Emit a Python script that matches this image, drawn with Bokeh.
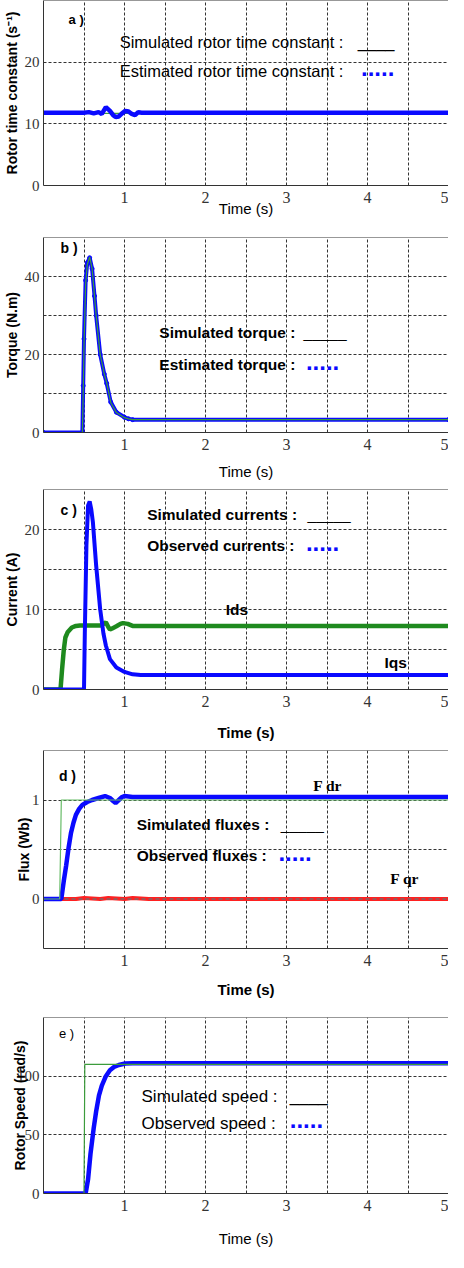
from bokeh.plotting import figure
from bokeh.models import FixedTicker, Label, Range1d, Span
from bokeh.layouts import column
from bokeh.embed import file_html
from bokeh.resources import INLINE

# ---------------- data ----------------
# a) rotor time constant
tau_sim_time = [0, 0.5, 5]
tau_sim = [11.7, 11.7, 11.7]
tau_est_time = [0, 0.5, 0.56, 0.62, 0.68, 0.72, 0.77, 0.82, 0.86, 0.89, 0.93, 0.97,
                1.01, 1.05, 1.09, 1.13, 1.17, 1.21, 1.25, 5]
tau_est = [11.8, 11.8, 11.9, 11.7, 11.9, 11.6, 12.7, 12.1, 11.4, 11.1, 11.2, 11.7,
           12.1, 12.0, 11.6, 11.4, 11.9, 11.8, 11.8, 11.8]

# b) torque
torque_time = [0, 0.48, 0.49, 0.5, 0.52, 0.54, 0.57, 0.6, 0.63, 0.65, 0.7, 0.75,
               0.78, 0.83, 0.9, 1.0, 1.05, 1.1, 5]
torque_sim = [0, 0, 10, 22, 38, 43, 45, 42, 35, 30, 20, 15, 12.8, 7.7, 5.1, 3.8, 3.5, 3.3, 3.3]
torque_est = [0, 0, 12, 24, 39, 43.5, 44.8, 42, 35, 30, 20, 15, 12.6, 7.8, 5.2, 3.9, 3.5, 3.3, 3.3]

# c) currents
ids_time = [0, 0.21, 0.23, 0.25, 0.27, 0.3, 0.35, 0.4, 0.45, 0.7, 0.74, 0.77, 0.8,
            0.82, 0.86, 0.9, 0.95, 0.98, 1.04, 1.1, 5]
ids_sim = [0, 0, 2.5, 4.8, 6.5, 7.2, 7.75, 7.95, 8.0, 8.0, 8.2, 8.4, 7.8, 7.5, 7.7,
           7.9, 8.2, 8.3, 8.2, 7.95, 7.95]
ids_obs = [0, 0, 2.6, 4.9, 6.5, 7.2, 7.75, 7.95, 8.0, 8.0, 8.2, 8.4, 7.8, 7.5, 7.7,
           7.9, 8.2, 8.3, 8.2, 7.95, 7.95]
iqs_time = [0, 0.5, 0.51, 0.53, 0.55, 0.57, 0.59, 0.61, 0.65, 0.7, 0.74, 0.77, 0.82,
            0.9, 1.0, 1.1, 1.2, 5]
iqs_sim = [0, 0, 7, 18, 23, 23.5, 22.5, 20.9, 15.5, 10, 7, 5.5, 3.8, 2.75, 2.2, 1.9, 1.8, 1.8]
iqs_obs = [0, 0, 7, 18, 23, 23.5, 22.5, 20.9, 15.5, 10, 7, 5.5, 3.8, 2.75, 2.2, 1.9, 1.8, 1.8]

# d) fluxes
fdr_sim_time = [0, 0.2, 0.22, 5]
fdr_sim = [0, 0, 1.0, 1.0]
fdr_obs_time = [0, 0.22, 0.25, 0.28, 0.31, 0.34, 0.37, 0.40, 0.44, 0.48, 0.54, 0.60,
                0.68, 0.76, 0.82, 0.86, 0.89, 0.93, 0.97, 1.0, 1.1, 5]
fdr_obs = [0, 0, 0.18, 0.34, 0.52, 0.67, 0.77, 0.85, 0.91, 0.95, 0.98, 1.0, 1.02,
           1.04, 1.02, 0.99, 0.97, 1.0, 1.03, 1.04, 1.03, 1.03]
fqr_time = [0, 0.4, 0.5, 0.7, 0.8, 1.0, 1.1, 1.3, 5]
fqr_sim = [0, 0, 0, 0, 0, 0, 0, 0, 0]
fqr_obs = [0, 0, 0.01, 0.0, 0.01, 0.0, 0.01, 0.0, 0.0]

# e) rotor speed
speed_sim_time = [0, 0.5, 0.51, 5]
speed_sim = [0, 0, 110, 110]
speed_obs_time = [0, 0.52, 0.55, 0.58, 0.62, 0.65, 0.685, 0.72, 0.77, 0.82, 0.87,
                  0.93, 1.01, 1.1, 5]
speed_obs = [0, 0, 12, 33.6, 55.8, 70, 83.6, 92, 100, 105, 107.8, 109.5, 110.8, 111, 111]

x_tick_labels = [1, 2, 3, 4, 5]
x_grid_lines = [0.5, 1, 1.5, 2, 2.5, 3, 3.5, 4, 4.5, 5]

BLUE = "#0a0aff"
GREEN = "#3c9c3c"
DGREEN = "#1e8a1e"
RED = "#ff2020"
FRAME = "#333333"
SANS = "Liberation Sans"
NARROW = "Liberation Sans Narrow"


def make_panel(height, top, bottom, yr, yticks, ygrid, ylabel, xlabel_bold,
               xlabel_standoff, ylabel_standoff=2):
    p = figure(width=448, height=height, x_range=Range1d(0, 5), y_range=Range1d(*yr),
               output_backend="svg", toolbar_location=None,
               min_border_left=40, min_border_right=0,
               min_border_top=top, min_border_bottom=bottom)
    p.background_fill_color = "white"
    p.border_fill_color = "white"
    p.outline_line_color = None
    for ax in (p.xaxis, p.yaxis):
        ax.major_tick_in = 0
        ax.major_tick_out = 0
        ax.minor_tick_line_color = None
        ax.axis_line_color = FRAME
        ax.axis_line_width = 1
        ax.major_label_text_font = NARROW
        ax.major_label_text_color = "#333333"
        ax.axis_label_text_font = SANS
        ax.axis_label_text_color = "black"
    p.xaxis.major_label_text_font_size = "16px"
    p.yaxis.major_label_text_font_size = "15px"
    p.add_layout(Span(location=yr[1], dimension="width", line_color=FRAME, line_width=1))
    p.xaxis.ticker = FixedTicker(ticks=x_tick_labels)
    p.yaxis.ticker = FixedTicker(ticks=yticks)
    p.xgrid.ticker = FixedTicker(ticks=x_grid_lines)
    p.ygrid.ticker = FixedTicker(ticks=ygrid)
    for g in (p.xgrid, p.ygrid):
        g.grid_line_color = "#333333"
        g.grid_line_dash = "3 2"
        g.grid_line_width = 1
    p.xaxis.major_label_standoff = 6
    p.yaxis.major_label_standoff = 4
    p.xaxis.axis_label = "Time (s)"
    p.xaxis.axis_label_text_font_size = "15px"
    p.xaxis.axis_label_text_font_style = "bold" if xlabel_bold else "normal"
    p.xaxis.axis_label_standoff = xlabel_standoff
    p.yaxis.axis_label = ylabel
    p.yaxis.axis_label_text_font_size = "14px"
    p.yaxis.axis_label_text_font_style = "bold"
    p.yaxis.axis_label_standoff = ylabel_standoff
    return p


def txt(p, x, y, s, size="16.5px", bold=False, color="black", font=SANS):
    p.add_layout(Label(x=x, y=y, text=s, text_font=font, text_font_size=size,
                       text_font_style="bold" if bold else "normal",
                       text_color=color, text_baseline="middle", text_align="left"))


def dots(p, x, y):
    p.add_layout(Label(x=x, y=y, text=".....", text_font=SANS, text_font_size="24px",
                       text_font_style="bold", text_color=BLUE, text_baseline="bottom",
                       text_align="left", y_offset=-5))


# ---- a) ----
pa = make_panel(233, 0, 48, (0, 30), [0, 10, 20], [10, 20], "Rotor time constant (s\u207b\u00b9)",
                False, -6)
pa.line(tau_sim_time, tau_sim, line_color=GREEN, line_width=1.2)
pa.line(tau_est_time, tau_est, line_color=BLUE, line_width=4.5)
txt(pa, 0.31, 26.9, "a )", size="13px", bold=True)
txt(pa, 0.94, 23.35, "Simulated rotor time constant  :")
txt(pa, 3.88, 23.35, "____")
txt(pa, 0.94, 18.5, "Estimated rotor time constant  :")
dots(pa, 3.92, 18.5)

# ---- b) ----
pb = make_panel(252, 4, 53, (0, 50), [0, 20, 40], [10, 20, 30, 40], "Torque (N.m)", False, 10)
pb.line(torque_time, torque_est, line_color=BLUE, line_width=4)
pb.scatter(torque_time, torque_est, size=4, color=BLUE)
pb.line(torque_time, torque_sim, line_color=GREEN, line_width=1.2)
txt(pb, 0.21, 47.4, "b )", size="14px", bold=True)
txt(pb, 1.43, 25.6, "Simulated torque  :", size="15.5px", bold=True)
txt(pb, 3.21, 25.6, "_____", size="15.5px")
txt(pb, 1.43, 17.4, "Estimated torque  :", size="15.5px", bold=True)
dots(pb, 3.24, 17.4)

# ---- c) ----
pc = make_panel(261, 4, 57, (0, 25), [0, 10, 20], [5, 10, 15, 20], "Current (A)", True, 14)
pc.line(ids_time, ids_sim, line_color=DGREEN, line_width=1.2)
pc.line(ids_time, ids_obs, line_color=DGREEN, line_width=4.5)
pc.line(iqs_time, iqs_obs, line_color=BLUE, line_width=4)
pc.line(iqs_time, iqs_sim, line_color=BLUE, line_width=1.2)
txt(pc, 0.21, 22.4, "c )", size="14px", bold=True)
txt(pc, 1.28, 21.9, "Simulated currents  :", size="15.5px", bold=True)
txt(pc, 3.26, 21.9, "_____", size="15.5px")
txt(pc, 1.28, 18.0, "Observed currents  :", size="15.5px", bold=True)
dots(pc, 3.24, 18.0)
txt(pc, 2.25, 10.0, "Ids", size="15.5px", bold=True)
txt(pc, 4.21, 3.4, "Iqs", size="15.5px", bold=True)

# ---- d) ----
pd = make_panel(257, 4, 55, (-0.5, 1.5), [0, 1], [0, 0.5, 1], "Flux (Wb)", True, 12, -3)
pd.line(fqr_time, fqr_obs, line_color=RED, line_width=4)
pd.line(fqr_time, fqr_sim, line_color="#3a8a8a", line_width=1, line_dash="4 3")
pd.line(fdr_obs_time, fdr_obs, line_color=BLUE, line_width=4.5)
pd.line(fdr_sim_time, fdr_sim, line_color="#66bb66", line_width=1.2)
txt(pd, 0.19, 1.247, "d )", size="14px", bold=True)
txt(pd, 3.33, 1.146, "F dr", size="15.5px", bold=True, font="Liberation Serif")
txt(pd, 4.28, 0.207, "F qr", size="15.5px", bold=True, font="Liberation Serif")
txt(pd, 1.15, 0.753, "Simulated fluxes  :", size="15.5px", bold=True)
txt(pd, 2.93, 0.753, "_____", size="15.5px")
txt(pd, 1.15, 0.439, "Observed fluxes  :", size="15.5px", bold=True)
dots(pd, 2.90, 0.439)

# ---- e) ----
pe = make_panel(249, 14, 59, (0, 150), [0, 50, 100], [50, 100], "Rotor Speed (rad/s)", False, 16, -14)
pe.line(speed_obs_time, speed_obs, line_color=BLUE, line_width=4.5)
pe.line(speed_sim_time, speed_sim, line_color=GREEN, line_width=1.2)
txt(pe, 0.19, 136.7, "e )", size="13px")
txt(pe, 1.21, 82.5, "Simulated speed  :", size="17px")
txt(pe, 3.04, 82.5, "____", size="17px")
txt(pe, 1.21, 60.0, "Observed speed  :", size="17px")
dots(pe, 3.04, 60.0)

layout = column(pa, pb, pc, pd, pe, spacing=0)
open("out.html", "w").write(file_html(layout, INLINE))
